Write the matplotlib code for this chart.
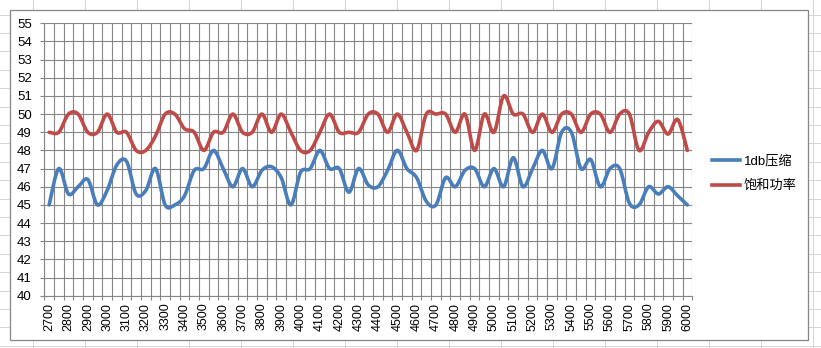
import matplotlib
matplotlib.use("Agg")
import matplotlib.pyplot as plt
import numpy as np
from matplotlib.path import Path
from matplotlib.patches import PathPatch, Rectangle
from matplotlib.lines import Line2D

plt.rcParams['font.family'] = ['Liberation Sans', 'Noto Sans CJK SC', 'DejaVu Sans']

freq = list(range(2700, 6001, 50))
series_names = ["1db压缩", "饱和功率"]
compress_1db = [45, 47, 45.6, 46, 46.4, 45, 45.8, 47.2, 47.4, 45.6,
                45.8, 47, 45, 45, 45.5, 46.9, 47, 48, 47, 46,
                47, 46, 46.9, 47.1, 46.5, 45, 46.8, 47, 48, 47,
                47, 45.7, 47, 46.1, 46, 46.9, 48, 47, 46.5, 45.2,
                45, 46.5, 46, 46.9, 47, 46, 47, 46, 47.6, 46,
                47, 48, 47, 49, 49, 47, 47.5, 46, 47, 47,
                45.1, 45, 46, 45.6, 46, 45.5, 45]
sat_power = [49, 49, 50, 50, 49, 49, 50, 49, 49, 48,
             48, 48.8, 50, 50, 49.2, 49, 48, 49, 49, 50,
             49, 49, 50, 49, 50, 49, 48, 48, 49, 50,
             49, 49, 49, 50, 50, 49, 50, 49, 48, 50,
             50, 50, 49, 50, 48, 50, 49, 51, 50, 50,
             49, 50, 49, 50, 50, 49, 50, 50, 49, 50,
             50, 48, 49, 49.6, 48.9, 49.7, 48]
colors = ["#4A7EBB", "#BE4B48"]
y_ticks = list(range(40, 56))
x_labels = [str(v) for v in range(2700, 6001, 100)]

W, H = 821, 348
fig = plt.figure(figsize=(W / 100, H / 100), dpi=100)
fig.patch.set_facecolor("white")

# spreadsheet cell lines behind the chart
cell = "#D4D4D4"
for xp in np.arange(33, W, 52):
    fig.add_artist(Line2D([xp / W, xp / W], [0, 1], color=cell, lw=0.7, zorder=-3))
for yp in np.arange(14.6, H, 18.4):
    fig.add_artist(Line2D([0, 1], [1 - yp / H, 1 - yp / H], color=cell, lw=0.7, zorder=-3))
fig.add_artist(Rectangle((10 / W, 1 - 340 / H), (808 - 10) / W, (340 - 10) / H,
                         transform=fig.transFigure, facecolor="white",
                         edgecolor="#868686", lw=0.9, zorder=-2))

left, right, top, bottom = 44.3, 692.2, 23.3, 295.7
ax = fig.add_axes([left / W, 1 - bottom / H, (right - left) / W, (bottom - top) / H])
ax.set_facecolor("white")


def smooth_path(xs, ys):
    xs = np.asarray(xs, float)
    ys = np.asarray(ys, float)
    n = len(xs)
    verts = [(xs[0], ys[0])]
    codes = [Path.MOVETO]
    for i in range(n - 1):
        p0 = i - 1 if i > 0 else i
        p3 = i + 2 if i + 2 < n else i + 1
        c1 = (xs[i] + (xs[i + 1] - xs[p0]) / 6, ys[i] + (ys[i + 1] - ys[p0]) / 6)
        c2 = (xs[i + 1] - (xs[p3] - xs[i]) / 6, ys[i + 1] - (ys[p3] - ys[i]) / 6)
        verts += [c1, c2, (xs[i + 1], ys[i + 1])]
        codes += [Path.CURVE4] * 3
    return Path(verts, codes)


handles = []
for vals, col, name in zip([compress_1db, sat_power], colors, series_names):
    patch = PathPatch(smooth_path(freq, vals), facecolor="none", edgecolor=col,
                      lw=2.6, capstyle="round", joinstyle="round", zorder=3)
    ax.add_patch(patch)
    handles.append(Line2D([], [], color=col, lw=2.6, label=name))

ax.set_xlim(freq[0] - 25, freq[-1] + 25)
ax.set_ylim(40, 55)
ax.set_yticks(y_ticks)
ax.set_xticks(range(2700, 6001, 100))
ax.set_xticklabels(x_labels, rotation=90)
ax.set_xticks(np.arange(freq[0] - 25, freq[-1] + 26, 50), minor=True)

grid_c = "#868686"
ax.grid(True, axis="y", which="major", color=grid_c, lw=0.8)
ax.grid(True, axis="x", which="minor", color=grid_c, lw=0.8)
ax.set_axisbelow(True)
for s in ["top", "right"]:
    ax.spines[s].set_visible(False)
for s in ["left", "bottom"]:
    ax.spines[s].set_color(grid_c)
    ax.spines[s].set_linewidth(0.8)

ax.tick_params(axis="y", which="major", length=3, width=0.8, color=grid_c,
               labelsize=9.5, pad=6)
ax.tick_params(axis="x", which="major", length=0, labelsize=9, pad=5)
ax.tick_params(axis="x", which="minor", length=3, width=0.8, color=grid_c)

fig.legend(handles=handles, loc="center left",
           bbox_to_anchor=(712 / W, 1 - 173.5 / H), frameon=False,
           fontsize=9.5, handlelength=2.1, handletextpad=0.3,
           labelspacing=0.95, borderpad=0, borderaxespad=0)

fig.savefig("out.png", dpi=100, facecolor="white")
